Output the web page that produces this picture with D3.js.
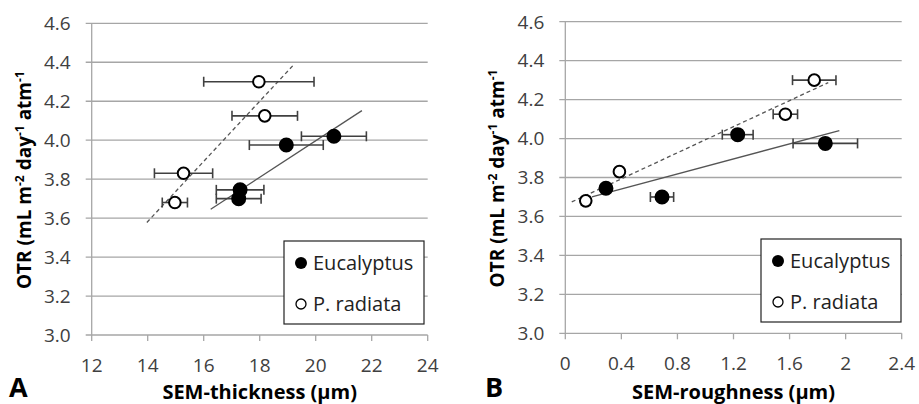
<!DOCTYPE html>
<html>
<head>
<meta charset="utf-8">
<title>OTR vs SEM thickness / roughness</title>
<script src="https://cdn.jsdelivr.net/npm/d3@7"></script>
<style>
  html, body { margin: 0; padding: 0; background: #fff; }
  svg { display: block; font-family: "Open Sans", sans-serif; }
</style>
</head>
<body>
<svg id="chart" width="919" height="404"></svg>
<script>
// OTR (mL m-2 day-1 atm-1) for the four samples of each wood type
var eucOtr = [4.02, 3.975, 3.745, 3.70];
var pineOtr = [4.30, 4.125, 3.83, 3.68];

// panel A: SEM thickness (um) with +/- error
var eucThick = [20.65, 18.95, 17.30, 17.25];
var eucThickErr = [1.16, 1.32, 0.85, 0.80];
var pineThick = [17.97, 18.18, 15.28, 14.97];
var pineThickErr = [1.97, 1.17, 1.04, 0.45];

// panel B: SEM roughness (um) with +/- error
var eucRough = [1.23, 1.855, 0.29, 0.69];
var eucRoughErr = [0.11, 0.23, 0.02, 0.083];
var pineRough = [1.776, 1.57, 0.386, 0.146];
var pineRoughErr = [0.155, 0.087, 0.025, 0.03];

// how far the trendlines are projected beyond the data (forward / backward)
var trendPadA = 1.0;
var trendPadB = 0.1;

var yTicks = [3.0, 3.2, 3.4, 3.6, 3.8, 4.0, 4.2, 4.4, 4.6];
var xTicksA = [12, 14, 16, 18, 20, 22, 24];
var xTicksB = [0, 0.4, 0.8, 1.2, 1.6, 2, 2.4];

var svg = d3.select('#chart');
var gridColor = '#a6a6a6';
var markColor = '#404040';

function fit(xs, ys) {
    var mx = d3.mean(xs), my = d3.mean(ys);
    var sxy = d3.sum(xs, (x, i) => (x - mx) * (ys[i] - my));
    var sxx = d3.sum(xs, x => (x - mx) * (x - mx));
    var b = sxy / sxx;
    return x => my + b * (x - mx);
}

function panel(opt) {
    var x = d3.scaleLinear().domain(d3.extent(opt.xTicks)).range([opt.left, opt.right]);
    var y = d3.scaleLinear().domain([3.0, 4.6]).range([opt.bottom, opt.top]);
    var g = svg.append('g');

    // horizontal gridlines + y ticks
    g.selectAll('.grid').data(yTicks).enter().append('line')
        .attr('x1', opt.left - 6).attr('x2', opt.right)
        .attr('y1', d => y(d)).attr('y2', d => y(d))
        .attr('stroke', gridColor).attr('stroke-width', 1.3);
    g.append('line')
        .attr('x1', opt.left).attr('x2', opt.left)
        .attr('y1', y(3.0)).attr('y2', y(4.6))
        .attr('stroke', gridColor).attr('stroke-width', 1.3);
    g.selectAll('.xt').data(opt.xTicks).enter().append('line')
        .attr('x1', d => x(d)).attr('x2', d => x(d))
        .attr('y1', y(3.0)).attr('y2', y(3.0) + 6)
        .attr('stroke', gridColor).attr('stroke-width', 1.3);

    g.selectAll('.yl').data(yTicks).enter().append('text')
        .attr('x', opt.left - 21).attr('y', d => y(d))
        .attr('dy', '0.36em').attr('text-anchor', 'end')
        .attr('font-size', 19).attr('fill', '#404040')
        .text(d => d.toFixed(1));
    g.selectAll('.xl').data(opt.xTicks).enter().append('text')
        .attr('x', d => x(d)).attr('y', y(3.0) + 37)
        .attr('text-anchor', 'middle')
        .attr('font-size', 19).attr('fill', '#404040')
        .text(d => String(d));

    // trendlines
    [[opt.euc, eucOtr, null], [opt.pine, pineOtr, '4,3']].forEach(function (s) {
        var f = fit(s[0], s[1]);
        var x0 = d3.min(s[0]) - opt.pad, x1 = d3.max(s[0]) + opt.pad;
        g.append('line')
            .attr('x1', x(x0)).attr('y1', y(f(x0)))
            .attr('x2', x(x1)).attr('y2', y(f(x1)))
            .attr('stroke', '#555').attr('stroke-width', 1.3)
            .attr('stroke-dasharray', s[2]);
    });

    // error bars + markers
    [[opt.euc, opt.eucErr, eucOtr, 'black'], [opt.pine, opt.pineErr, pineOtr, 'white']].forEach(function (s) {
        var pts = s[0].map((v, i) => ({ x: v, e: s[1][i], y: s[2][i] }));
        var eb = g.selectAll(null).data(pts).enter().append('g').attr('stroke', markColor).attr('stroke-width', 1.6);
        eb.append('line').attr('x1', d => x(d.x - d.e)).attr('x2', d => x(d.x + d.e))
            .attr('y1', d => y(d.y)).attr('y2', d => y(d.y));
        eb.append('line').attr('x1', d => x(d.x - d.e)).attr('x2', d => x(d.x - d.e))
            .attr('y1', d => y(d.y) - 5).attr('y2', d => y(d.y) + 5);
        eb.append('line').attr('x1', d => x(d.x + d.e)).attr('x2', d => x(d.x + d.e))
            .attr('y1', d => y(d.y) - 5).attr('y2', d => y(d.y) + 5);
        g.selectAll(null).data(pts).enter().append('circle')
            .attr('cx', d => x(d.x)).attr('cy', d => y(d.y))
            .attr('r', s[3] === 'black' ? 6.5 : 5.8)
            .attr('fill', s[3]).attr('stroke', 'black').attr('stroke-width', 2);
    });

    // legend
    var lg = g.append('g').attr('transform', 'translate(' + opt.legX + ',' + opt.legY + ')');
    lg.append('rect').attr('width', 140).attr('height', 83)
        .attr('fill', 'white').attr('stroke', '#222').attr('stroke-width', 1.2);
    lg.append('circle').attr('cx', 17).attr('cy', 22).attr('r', 6).attr('fill', 'black');
    lg.append('circle').attr('cx', 17).attr('cy', 63).attr('r', 5).attr('fill', 'white')
        .attr('stroke', 'black').attr('stroke-width', 1.3);
    lg.append('text').attr('x', 29).attr('y', 22).attr('dy', '0.36em')
        .attr('font-size', 20).attr('fill', '#222').text('Eucalyptus');
    lg.append('text').attr('x', 29).attr('y', 63).attr('dy', '0.36em')
        .attr('font-size', 20).attr('fill', '#222').text('P. radiata');

    // titles
    g.append('text').attr('x', (opt.left + opt.right) / 2).attr('y', 399)
        .attr('text-anchor', 'middle').attr('font-size', 20).attr('font-weight', 'bold')
        .text(opt.xTitle);
    g.append('text').attr('x', opt.letterX).attr('y', 397)
        .attr('font-size', 27).attr('font-weight', 'bold').text(opt.letter);

    var yt = g.append('text')
        .attr('transform', 'translate(' + opt.yTitleX + ',' + ((opt.top + opt.bottom) / 2 + 1) + ') rotate(-90)')
        .attr('text-anchor', 'middle').attr('font-size', 19).attr('font-weight', 'bold');
    yt.append('tspan').text('OTR (mL m');
    yt.append('tspan').attr('dy', -7).attr('font-size', 12).text('-2');
    yt.append('tspan').attr('dy', 7).text(' day');
    yt.append('tspan').attr('dy', -7).attr('font-size', 12).text('-1');
    yt.append('tspan').attr('dy', 7).text(' atm');
    yt.append('tspan').attr('dy', -7).attr('font-size', 12).text('-1');
}

panel({
    left: 91.7, right: 427.7, top: 23.3, bottom: 335,
    xTicks: xTicksA, pad: trendPadA,
    euc: eucThick, eucErr: eucThickErr, pine: pineThick, pineErr: pineThickErr,
    legX: 284, legY: 241, xTitle: 'SEM-thickness (\u00b5m)', letter: 'A', letterX: 9, yTitleX: 31
});
panel({
    left: 565.3, right: 901.7, top: 21.7, bottom: 333.3,
    xTicks: xTicksB, pad: trendPadB,
    euc: eucRough, eucErr: eucRoughErr, pine: pineRough, pineErr: pineRoughErr,
    legX: 761, legY: 239, xTitle: 'SEM-roughness (\u00b5m)', letter: 'B', letterX: 485, yTitleX: 504
});
</script>
</body>
</html>
